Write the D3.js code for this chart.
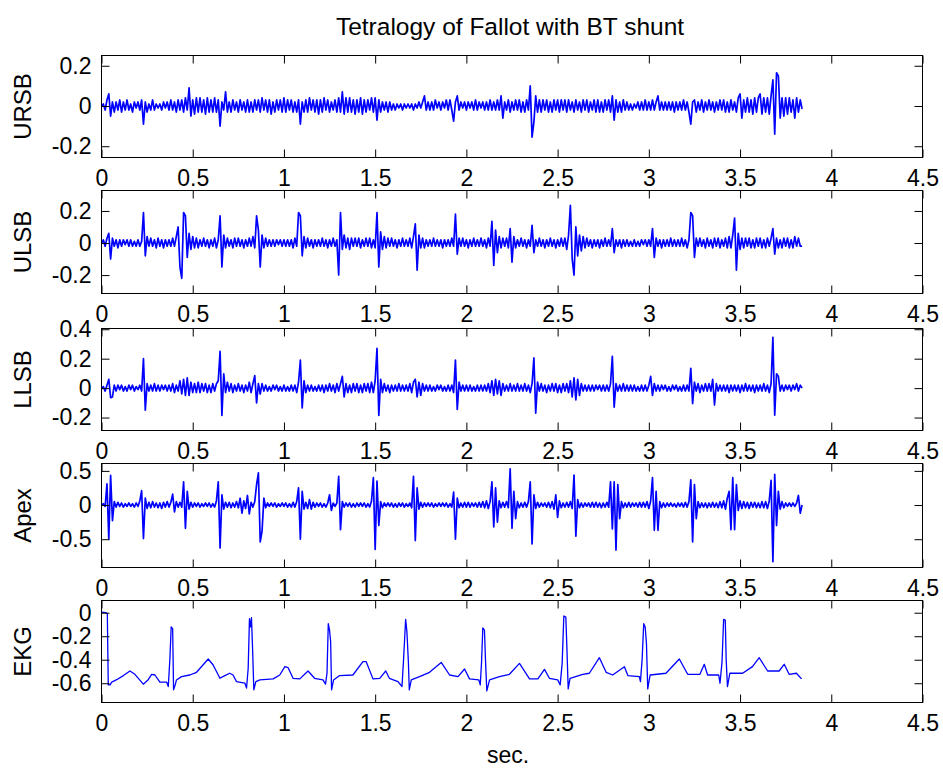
<!DOCTYPE html>
<html><head><meta charset="utf-8">
<script src="https://cdn.jsdelivr.net/npm/d3@7"></script>
<style>
body{margin:0;background:#fff}
svg{display:block}
text{font-family:"Liberation Sans",Arial,sans-serif;fill:#000}
</style></head>
<body><svg id="chart" width="943" height="769"></svg>
<script>
// ---------------- DATA ----------------
const title = "Tetralogy of Fallot with BT shunt";
const xLabel = "sec.";
const xTicks = [0, 0.5, 1, 1.5, 2, 2.5, 3, 3.5, 4, 4.5];
const xTickLabels = ["0", "0.5", "1", "1.5", "2", "2.5", "3", "3.5", "4", "4.5"];
const sampleStep = 0.01; // seconds between samples of the sound channels

const ursb = [
0,.01,-.02,.03,.06,-.05,.02,-.03,.02,-.02,
.03,-.03,.02,-.02,.03,-.02,.01,-.03,.02,-.01,
.02,-.02,.03,-.09,.02,-.03,.01,-.02,.03,-.02,
.01,-.01,.01,-.02,.02,-.01,.02,-.02,.03,-.02,
.02,-.03,.03,-.02,.03,-.03,.04,-.02,.09,-.05,
.03,-.04,.04,-.03,.04,-.03,.03,-.04,.04,-.03,
.03,-.03,.04,-.03,.03,-.10,.02,-.02,.07,-.03,
.02,-.03,.03,-.02,.02,-.03,.03,-.02,.02,-.03,
.03,-.03,.02,-.03,.03,-.02,.03,-.03,.04,-.02,
.03,-.03,.03,-.04,.02,-.03,.03,-.02,.03,-.03,
.04,-.03,.03,-.02,.03,-.03,.02,-.03,.03,-.09,
.02,-.03,.03,-.03,.04,-.02,.03,-.03,.03,-.04,
.03,-.03,.04,-.02,.03,-.03,.02,-.02,.03,-.03,
.04,-.03,.07,-.04,.04,-.03,.04,-.03,.03,-.04,
.03,-.03,.04,-.04,.03,-.03,.03,-.02,.04,-.03,
.04,-.07,.03,-.03,.02,-.02,.02,-.03,.02,-.02,
.01,-.02,.01,-.01,.01,-.02,.01,-.01,.01,-.01,
.01,-.02,.01,-.01,.02,-.01,.02,.05,-.02,.02,
-.02,.02,-.02,.03,-.01,.02,-.02,.02,-.01,.03,
-.02,.03,-.02,-.075,.02,.05,-.02,.02,-.01,.02,
-.02,.02,-.01,.02,-.02,.03,-.02,.02,-.01,.02,
-.02,.02,-.02,.03,-.02,.02,-.02,.03,-.02,.05,
-.06,.02,-.02,.03,-.03,.02,-.02,.03,-.02,.03,
-.03,.02,-.03,.03,-.02,.10,-.155,-.08,.05,-.03,
.03,-.03,.03,-.02,.03,-.03,.02,-.03,.03,-.02,
.03,-.03,.03,-.02,.03,-.03,.03,-.02,.02,-.03,
.03,-.02,.02,-.03,.03,-.02,.03,-.03,.02,-.02,
.03,-.03,.03,-.03,.02,-.03,.03,-.02,.03,-.03,
.05,-.07,.03,-.03,.02,-.03,.03,-.02,.02,-.02,
.01,-.02,.01,-.01,.02,-.02,.02,-.02,.03,-.02,
.02,-.02,.03,-.02,.02,.05,-.02,.02,-.02,.02,
-.02,.02,-.02,.02,-.03,.02,-.02,.02,-.02,.03,
-.02,.02,-.03,-.09,.02,.03,-.03,.02,-.02,.03,
-.03,.02,-.02,.03,-.02,.02,-.03,.02,-.02,.03,
-.02,.03,-.03,.02,-.03,.03,-.02,.02,-.03,.04,
.06,-.06,.03,-.03,.04,-.03,.03,-.04,.04,-.03,
.04,.06,-.04,.04,-.03,.04,-.04,.05,.13,-.14,
.165,.15,-.06,.04,-.05,.04,-.04,.04,-.03,.03,
-.06,.04,-.03,.03,-.015];

const ulsb = [
0,.02,-.02,.03,.06,-.10,.03,-.02,.02,-.03,
.02,-.02,.02,-.01,.02,-.02,.02,-.02,.01,-.02,
.02,-.02,.01,.19,-.08,.04,-.02,.03,-.02,.02,
-.03,.03,-.02,.02,-.03,.02,-.02,.02,-.02,.03,
-.02,.04,.10,-.15,-.22,.19,.17,-.09,.06,-.04,
.04,-.03,.03,-.03,.02,-.02,.03,-.02,.02,-.03,
.02,-.02,.03,-.03,.02,.17,-.15,.05,-.03,.03,
-.02,.02,-.03,.03,-.02,.03,-.02,.02,-.03,.02,
-.02,.03,-.02,.04,-.03,.17,.08,-.15,.05,-.03,
.03,-.02,.02,-.02,.02,-.02,.02,-.01,.02,-.02,
.02,-.02,.02,-.02,.02,-.03,.03,-.02,.19,.17,
-.08,.04,-.03,.03,-.02,.02,-.03,.02,-.02,.02,
-.02,.03,-.02,.02,-.03,.02,-.02,.03,-.02,.02,
-.20,.19,-.04,.05,-.03,.03,-.04,.03,-.02,.03,
-.02,.03,-.03,.02,-.02,.03,-.02,.03,-.03,.02,
-.03,.19,-.15,.07,-.04,.04,-.03,.03,-.02,.03,
-.02,.02,-.03,.02,-.02,.03,-.02,.02,-.02,.03,
-.03,.04,.12,-.17,.05,-.03,.03,-.03,.02,-.02,
.02,-.02,.03,-.02,.02,-.02,.02,-.03,.02,-.02,
.02,-.02,.03,-.02,.18,-.07,.03,-.02,.03,-.02,
.02,-.03,.02,-.02,.03,-.02,.02,-.02,.03,-.02,
.02,-.03,.03,-.02,.135,-.14,.08,-.06,.04,-.03,
.03,-.02,.03,-.03,.09,-.12,.04,-.03,.02,-.02,
.03,-.02,.02,-.03,.02,-.02,.11,-.06,.02,-.02,
.03,-.02,.02,-.03,.02,-.02,.03,-.02,.02,-.03,
.02,-.02,.03,-.02,.03,-.04,.05,.235,-.10,-.20,
.10,-.08,.05,-.05,.04,-.03,.03,-.02,.02,-.03,
.02,-.02,.02,-.03,.02,-.02,.03,-.02,.02,-.02,
.09,-.06,.02,-.02,.02,-.03,.02,-.02,.02,-.02,
.01,-.02,.02,-.02,.01,-.02,.02,-.01,.02,-.02,
.02,-.02,.09,-.09,.03,-.02,.02,-.03,.02,-.02,
.02,-.02,.03,-.02,.02,-.02,.02,-.02,.03,-.02,
.02,-.03,.02,.19,.17,-.09,.03,-.02,.03,-.02,
.02,-.03,.03,-.02,.02,-.03,.03,-.02,.03,-.03,
.02,-.02,.03,-.03,.04,-.03,.05,.156,-.17,.06,
-.04,.03,-.03,.03,-.02,.03,-.03,.02,-.03,.03,
-.02,.03,-.03,.02,-.03,.03,-.02,.03,.09,-.07,
.03,-.03,.02,-.03,.03,-.02,.03,-.03,.02,-.03,
.04,-.02,.03,-.02,-.02];

const llsb = [
0,.01,-.02,.02,.06,-.065,-.06,.02,-.02,.02,
-.01,.02,-.02,.01,-.02,.02,-.01,.02,-.02,.01,
-.01,.02,-.02,.20,-.15,.03,-.02,.02,-.02,.03,
-.02,.02,-.02,.02,-.01,.02,-.02,.02,-.02,.03,
-.03,.02,-.02,.05,-.04,.06,-.05,.07,-.05,.04,
-.03,.03,-.03,.04,-.03,.03,-.02,.03,-.03,.02,
-.03,.03,-.02,.03,.05,.25,-.186,.097,-.03,.04,
-.02,.03,-.03,.02,-.02,.03,-.02,.02,-.03,.02,
-.02,.04,-.03,.03,.085,-.10,.03,-.04,.03,-.02,
.02,-.02,.01,-.02,.02,-.01,.02,-.02,.01,-.02,
.02,-.02,.01,-.02,.02,-.02,.02,-.03,.04,.19,
-.135,.05,-.03,.02,-.02,.02,-.02,.01,-.02,.02,
-.02,.02,-.03,.02,-.02,.03,-.02,.02,-.03,.03,
-.02,.03,.08,-.06,.03,-.03,.02,-.03,.03,-.02,
.03,-.03,.02,-.03,.03,-.02,.03,-.03,.04,-.03,
.05,.27,-.186,.06,-.03,.03,-.02,.02,-.03,.02,
-.02,.02,-.02,.03,-.02,.02,-.02,.02,-.02,.03,
-.03,.04,.06,-.06,.04,-.05,.03,-.02,.02,-.02,
.02,-.02,.01,-.02,.02,-.01,.02,-.02,.01,-.02,
.02,-.02,.02,-.03,.19,-.145,.04,-.02,.02,-.02,
.02,-.02,.02,-.02,.01,-.02,.02,-.02,.02,-.02,
.02,-.02,.03,-.03,.05,-.05,.06,-.04,.05,-.05,
.03,-.02,.02,-.02,.03,-.02,.02,-.02,.03,-.02,
.02,-.02,.03,-.02,.02,-.03,.03,.205,-.17,.04,
-.02,.03,-.02,.02,-.03,.02,-.02,.03,-.02,.03,
-.03,.02,-.03,.03,-.02,.03,-.03,.05,-.06,.07,
-.08,.06,-.05,.03,-.02,.02,-.02,.02,-.02,.02,
-.02,.02,-.01,.02,-.02,.02,-.02,.02,-.02,.03,
.216,-.13,.03,-.02,.02,-.02,.03,-.02,.02,-.02,
.02,-.02,.02,-.02,.01,-.02,.02,-.02,.02,-.02,
.02,.08,-.05,.03,-.02,.02,-.02,.02,-.01,.02,
-.02,.01,-.02,.02,-.01,.02,-.02,.01,-.02,.02,
-.02,.02,-.02,.135,-.105,.04,-.02,.03,-.03,.02,
-.02,.03,-.02,.03,-.02,.06,-.115,.03,-.02,.02,
-.02,.02,-.02,.02,-.03,.02,-.02,.02,-.02,.02,
-.03,.02,-.02,.03,-.02,.02,-.02,.02,-.03,.02,
-.02,.02,-.02,.03,-.02,.02,-.03,.03,.345,-.184,
.097,.08,-.02,.02,-.02,.02,-.01,.02,-.02,.02,
-.01,.03,-.02,.02,0];

const apex = [
0,.02,-.02,.31,-.50,.435,-.23,.05,-.03,.04,
-.02,.03,-.03,.02,-.02,.03,-.02,.02,-.03,.03,
-.02,.06,.21,-.49,.10,-.05,.04,-.04,.05,-.03,
.03,-.04,.03,-.05,.04,-.03,.05,-.03,.04,.16,
-.10,.05,-.03,.04,-.03,.34,-.34,.20,-.06,.04,
-.03,.03,-.02,.03,-.03,.02,-.02,.03,-.02,.03,
-.03,.02,-.03,.06,.34,-.63,.15,-.06,.04,-.03,
.04,-.04,.03,-.03,.05,-.04,.10,-.12,.06,-.05,
.14,-.13,.04,-.03,.05,.30,.47,-.54,-.38,.10,
-.04,.03,-.02,.03,-.02,.03,-.03,.02,-.02,.03,
-.02,.03,-.03,.02,-.03,.04,-.03,.05,.25,-.50,
.20,-.06,.04,-.05,.08,-.06,.04,-.03,.03,-.02,
.03,-.03,.02,-.03,.03,.15,-.08,.03,-.02,.03,
.42,-.36,.05,-.03,.03,-.02,.03,-.03,.02,-.03,
.03,-.02,.03,-.02,.03,-.03,.02,-.03,.06,.40,
-.65,.35,-.30,.05,-.04,.03,-.02,.03,-.02,.03,
-.03,.02,-.03,.03,-.02,.03,-.03,.02,-.02,.03,
-.04,.42,-.52,.25,-.06,.04,-.03,.03,-.02,.03,
-.02,.03,-.03,.02,-.02,.03,-.02,.03,-.02,.03,
-.03,.02,-.03,.19,-.50,.10,-.04,.03,-.03,.04,
-.03,.04,-.03,.03,-.02,.03,-.03,.04,-.03,.05,
-.04,.06,-.05,.05,.34,-.32,.25,-.25,.06,-.04,
.04,-.03,.05,-.04,.53,-.34,.20,-.20,.05,-.04,
.03,-.03,.04,-.03,.05,.34,-.57,.15,-.05,.04,
-.03,.03,-.02,.03,-.03,.04,-.04,.05,-.06,.15,
-.18,.06,-.04,.03,-.03,.04,-.03,.05,-.05,.44,
-.455,.08,-.04,.03,-.03,.03,-.02,.03,-.03,.04,
-.03,.04,-.03,.03,-.04,.03,-.03,.04,-.03,.34,
-.35,.34,-.66,.30,-.20,.05,-.04,.03,-.03,.04,
-.03,.03,-.02,.03,-.03,.04,-.03,.04,-.03,.05,
-.05,.06,.40,-.37,.20,-.37,.05,-.04,.03,-.03,
.03,-.02,.03,-.02,.02,-.03,.03,-.02,.03,-.03,
.04,-.03,.05,.37,-.54,.30,-.20,.05,-.04,.03,
-.03,.03,-.04,.03,-.03,.04,-.03,.03,-.04,.05,
-.04,.06,-.06,.10,.20,-.36,.40,-.36,.30,-.08,
.06,-.05,.05,-.04,.04,-.05,.04,-.03,.04,-.04,
.03,-.04,.05,-.04,.05,-.05,.06,.36,-.83,.45,
-.30,.20,-.06,.05,-.04,.03,-.02,.03,-.02,.03,
-.02,.03,.14,-.12,0];

// EKG: points (time in s, value)
const ekgTime = [0,.025,.032,.037,.047,.056,.083,.12,.156,.183,.229,.256,.275,.293,.32,.357,.366,.375,.382,.39,.395,.404,.411,.439,.484,.521,.585,.612,.649,.676,.703,.721,.74,.786,.795,.804,.811,.817,.822,.828,.835,.846,.868,.941,.977,1.005,1.023,1.05,1.087,1.132,1.168,1.214,1.228,1.236,1.243,1.25,1.256,1.261,1.272,1.305,1.378,1.433,1.451,1.488,1.525,1.558,1.578,1.625,1.647,1.656,1.667,1.674,1.682,1.687,1.698,1.743,1.798,1.862,1.908,1.954,1.99,2.017,2.068,2.076,2.083,2.09,2.099,2.105,2.112,2.127,2.181,2.236,2.291,2.346,2.392,2.428,2.455,2.501,2.514,2.525,2.534,2.545,2.551,2.558,2.568,2.638,2.674,2.729,2.766,2.802,2.866,2.885,2.948,2.954,2.963,2.972,2.98,2.987,2.994,3.007,3.094,3.167,3.213,3.28,3.304,3.322,3.383,3.39,3.401,3.41,3.419,3.424,3.431,3.444,3.514,3.568,3.605,3.651,3.714,3.742,3.769,3.809,3.837];
const ekgValue = [.005,0,-.01,-.614,-.614,-.59,-.57,-.535,-.496,-.524,-.608,-.57,-.524,-.53,-.59,-.59,-.628,-.389,-.121,-.135,-.656,-.614,-.572,-.544,-.53,-.507,-.394,-.445,-.558,-.535,-.515,-.53,-.586,-.6,-.642,-.473,-.051,-.121,-.042,-.304,-.656,-.586,-.572,-.563,-.53,-.459,-.468,-.558,-.563,-.496,-.558,-.572,-.608,-.515,-.093,-.149,-.248,-.656,-.572,-.535,-.53,-.417,-.417,-.563,-.558,-.496,-.558,-.586,-.628,-.389,-.056,-.163,-.417,-.656,-.572,-.544,-.507,-.423,-.53,-.544,-.479,-.563,-.572,-.614,-.423,-.13,-.149,-.417,-.665,-.572,-.544,-.524,-.431,-.563,-.563,-.482,-.558,-.572,-.614,-.431,-.028,-.037,-.304,-.648,-.558,-.524,-.515,-.383,-.507,-.53,-.459,-.535,-.544,-.586,-.403,-.093,-.121,-.262,-.648,-.53,-.515,-.394,-.524,-.524,-.439,-.53,-.53,-.6,-.423,-.056,-.065,-.403,-.628,-.515,-.515,-.459,-.383,-.496,-.496,-.439,-.524,-.515,-.563];

const channelNames = ["URSB", "ULSB", "LLSB", "Apex", "EKG"];
const yTickValues = [[-0.2, 0, 0.2], [-0.2, 0, 0.2], [-0.2, 0, 0.2, 0.4], [-0.5, 0, 0.5], [-0.6, -0.4, -0.2, 0]];
const yTickLabels = [["-0.2", "0", "0.2"], ["-0.2", "0", "0.2"], ["-0.2", "0", "0.2", "0.4"], ["-0.5", "0", "0.5"], ["-0.6", "-0.4", "-0.2", "0"]];
const yLimits = [[-0.256, 0.251], [-0.315, 0.3275], [-0.288, 0.405], [-0.914, 0.608], [-0.764, 0.104]];

// ---------------- LAYOUT ----------------
const W = 943, H = 769;
const left = 101.5, right = 922.5;
const panelTops = [55.5, 190.5, 328.5, 463.5, 600.5];
const panelBottoms = [157.5, 293.5, 430.5, 567.5, 702.5];
const tickLen = 8;
const fontSize = 23;

const svg = d3.select("#chart");
svg.append("rect").attr("width", W).attr("height", H).attr("fill", "#fff");

const x = d3.scaleLinear().domain([0, 4.5]).range([left, right]);

const series = [
  ursb.map((v, i) => [i * sampleStep, v]),
  ulsb.map((v, i) => [i * sampleStep, v]),
  llsb.map((v, i) => [i * sampleStep, v]),
  apex.map((v, i) => [i * sampleStep, v]),
  ekgTime.map((t, i) => [t, ekgValue[i]])
];

channelNames.forEach((name, k) => {
  const top = panelTops[k], bottom = panelBottoms[k];
  const y = d3.scaleLinear().domain(yLimits[k]).range([bottom, top]);
  const g = svg.append("g");

  // trace
  g.append("path")
    .datum(series[k])
    .attr("fill", "none")
    .attr("stroke", "#0000ff")
    .attr("stroke-width", k === 4 ? 1.3 : 1.7)
    .attr("stroke-linejoin", "round")
    .attr("d", d3.line().x(d => x(d[0])).y(d => y(d[1])));

  // axes (ticks inside, MATLAB box style)
  const axB = g.append("g").attr("transform", `translate(0,${bottom})`)
    .call(d3.axisBottom(x).tickValues(xTicks).tickFormat((d, i) => xTickLabels[i]).tickSizeInner(-tickLen).tickSizeOuter(0).tickPadding(12.5));
  const axT = g.append("g").attr("transform", `translate(0,${top})`)
    .call(d3.axisTop(x).tickValues(xTicks).tickFormat("").tickSizeInner(-tickLen).tickSizeOuter(0));
  const axL = g.append("g").attr("transform", `translate(${left},0)`)
    .call(d3.axisLeft(y).tickValues(yTickValues[k]).tickFormat((d, i) => yTickLabels[k][i]).tickSizeInner(-tickLen).tickSizeOuter(0).tickPadding(10));
  const axR = g.append("g").attr("transform", `translate(${right},0)`)
    .call(d3.axisRight(y).tickValues(yTickValues[k]).tickFormat("").tickSizeInner(-tickLen).tickSizeOuter(0));
  [axB, axT, axL, axR].forEach(a => {
    a.select(".domain").remove();
    a.selectAll("line").attr("stroke", "#000").attr("stroke-width", 1);
    a.selectAll("text").attr("font-size", fontSize).attr("font-family", "Liberation Sans, Arial, sans-serif").attr("fill", "#000");
  });
  g.append("rect").attr("x", left).attr("y", top).attr("width", right - left).attr("height", bottom - top)
    .attr("fill", "none").attr("stroke", "#000").attr("stroke-width", 1);

  // y label
  g.append("text")
    .attr("transform", `translate(31,${(top + bottom) / 2}) rotate(-90)`)
    .attr("text-anchor", "middle")
    .attr("font-size", 24)
    .text(name);
});

svg.append("text").attr("x", 510).attr("y", 35).attr("text-anchor", "middle").attr("font-size", 24.5).text(title);
svg.append("text").attr("x", 508).attr("y", 763).attr("text-anchor", "middle").attr("font-size", 23).text(xLabel);
</script></body></html>
